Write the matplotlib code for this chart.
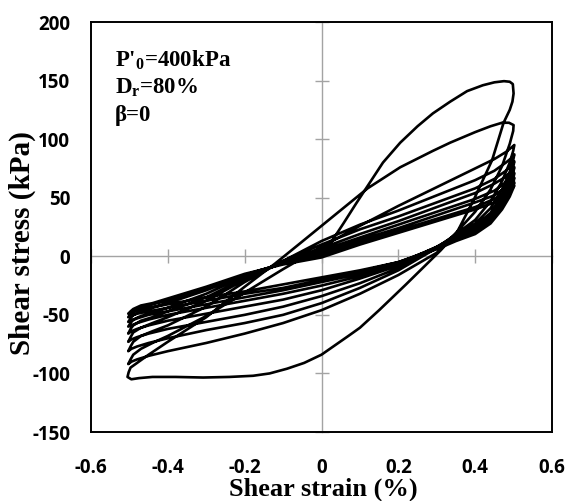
import matplotlib
matplotlib.use("Agg")
import matplotlib.pyplot as plt

# ---------------- data ----------------
# initial loading from origin to first peak
init_strain = [0.0, 0.035, 0.057, 0.09, 0.122, 0.16, 0.205, 0.25, 0.29, 0.335, 0.379, 0.42, 0.45, 0.475, 0.49, 0.498]
init_stress = [0, 17, 28, 45, 61, 80, 97, 111, 122, 132, 141, 146, 148.5, 149.5, 149, 147]

# first unloading
unload1_strain = [0.5, 0.497, 0.49, 0.474, 0.444, 0.396, 0.352, 0.31, 0.22, 0.15, 0.1, 0.07, 0.035, 0.0, -0.045, -0.09, -0.135, -0.178, -0.24, -0.308, -0.38, -0.44, -0.475, -0.495, -0.505, -0.502]
unload1_stress = [139, 132, 125, 114, 82, 48, 20, 5, -24, -46, -61, -68, -76, -84, -91, -96, -100, -102, -103, -103.5, -103, -103, -104, -105, -103, -99]

# first reloading
reload1_strain = [-0.497, -0.48, -0.45, -0.4, -0.3, -0.2, -0.12, -0.056, 0.0, 0.06, 0.12, 0.205, 0.29, 0.335, 0.4, 0.44, 0.47, 0.488, 0.5]
reload1_stress = [-95, -91, -84, -73, -52, -26, -6, 11, 26, 42, 58, 76, 90, 97, 106, 111, 114, 114, 112]

# later cycles: common strain grids
strain_down = [0.499, 0.49, 0.47, 0.44, 0.4, 0.35, 0.3, 0.2, 0.1, 0.0, -0.1, -0.2, -0.3, -0.4, -0.45, -0.48, -0.495, -0.503]
strain_up = [-0.497, -0.49, -0.47, -0.44, -0.4, -0.3, -0.2, -0.1, 0.0, 0.1, 0.2, 0.3, 0.4, 0.45, 0.48, 0.495, 0.502]

unload2 = [107, 96, 77, 57, 38, 20, 3, -16, -32, -46, -57, -66, -74, -81, -85, -88, -90, -92]
reload2 = [-88, -84, -79, -74, -68, -51, -31, -11, 8, 26, 43, 59, 75, 83, 89, 93, 95]
unload3 = [90, 80, 64, 47, 31, 19, 7, -12, -27, -40, -50, -57, -63, -70, -74, -77, -79, -81]
reload3 = [-77, -73, -68, -64, -59, -43, -22, -4, 13, 27, 39, 52, 65, 73, 80, 84, 87]
unload4 = [82, 72, 57, 41, 28, 18, 8, -10, -23, -34, -43, -50, -56, -62, -66, -69, -71, -73]
reload4 = [-69, -65, -61, -57, -52, -38, -20, -4, 10, 23, 34, 46, 58, 66, 73, 78, 81]
unload5 = [76, 66, 52, 37, 26, 17, 8, -8, -19, -29, -37, -43, -49, -55, -59, -62, -64, -66]
reload5 = [-62, -59, -55, -52, -47, -35, -19, -5, 7, 19, 30, 42, 54, 62, 68, 73, 76]
unload6 = [71, 62, 48, 34, 24, 16, 8, -7, -17, -25, -32, -38, -44, -50, -54, -57, -59, -60]
reload6 = [-57, -54, -51, -48, -44, -32, -17, -6, 5, 16, 27, 38, 49, 56, 63, 68, 71]
unload7 = [66, 58, 45, 32, 22, 15, 8, -6, -15, -22, -29, -35, -41, -47, -50, -53, -55, -56]
reload7 = [-53, -50, -47, -44, -40, -29, -16, -6, 3, 14, 24, 35, 46, 52, 59, 64, 67]
unload8 = [62, 55, 43, 30, 21, 14, 7, -5, -13, -20, -27, -32, -38, -44, -47, -49, -51, -52]
reload8 = [-49, -47, -44, -41, -38, -27, -16, -6, 1, 12, 22, 32, 42, 49, 55, 60, 63]
unload9 = [58, 51, 40, 28, 19, 13, 6, -5, -12, -18, -24, -30, -35, -41, -44, -46, -48, -49]
reload9 = [-47, -45, -42, -40, -36, -26, -15, -7, -1, 10, 20, 30, 40, 46, 52, 57, 60]

unloads_later = [unload2, unload3, unload4, unload5, unload6, unload7, unload8, unload9]
reloads_later = [reload2, reload3, reload4, reload5, reload6, reload7, reload8, reload9]

x_ticks = [-0.6, -0.4, -0.2, 0.0, 0.2, 0.4, 0.6]
x_tick_labels = ["-0.6", "-0.4", "-0.2", "0", "0.2", "0.4", "0.6"]
y_ticks = [-150, -100, -50, 0, 50, 100, 150, 200]
y_tick_labels = ["-150", "-100", "-50", "0", "50", "100", "150", "200"]

# ---------------- build the path ----------------
path_x = list(init_strain) + list(unload1_strain) + list(reload1_strain)
path_y = list(init_stress) + list(unload1_stress) + list(reload1_stress)
for u, r in zip(unloads_later, reloads_later):
    path_x += strain_down + strain_up
    path_y += u + r

# ---------------- figure ----------------
plt.rcParams["axes.unicode_minus"] = False
plt.rcParams["font.family"] = ["Open Sans", "DejaVu Sans"]
plt.rcParams["font.weight"] = "bold"
plt.rcParams["mathtext.fontset"] = "custom"
plt.rcParams["mathtext.rm"] = "Liberation Serif:bold"
plt.rcParams["mathtext.it"] = "Liberation Serif:bold"
plt.rcParams["mathtext.bf"] = "Liberation Serif:bold"

fig = plt.figure(figsize=(5.68, 5.01), dpi=100)
pos = [91 / 568, (501 - 432) / 501, (552 - 91) / 568, (432 - 22) / 501]

gray = "#a3a3a3"
ax0 = fig.add_axes(pos)
ax0.set_xlim(-0.6, 0.6)
ax0.set_ylim(-150, 200)
ax0.set_xticks(x_ticks)
ax0.set_yticks(y_ticks)
for s in ["top", "right"]:
    ax0.spines[s].set_visible(False)
ax0.spines["left"].set_position(("data", 0))
ax0.spines["bottom"].set_position(("data", 0))
for s in ["left", "bottom"]:
    ax0.spines[s].set_color(gray)
    ax0.spines[s].set_linewidth(1.0)
ax0.tick_params(direction="inout", length=9.5, width=1.0, color=gray,
                labelleft=False, labelbottom=False)
ax0.set_zorder(0)

ax = fig.add_axes(pos)
ax.set_zorder(1)
ax.patch.set_alpha(0)
ax.plot(path_x, path_y, color="black", lw=1.9, solid_joinstyle="round",
        solid_capstyle="round")
ax.set_xlim(-0.6, 0.6)
ax.set_ylim(-150, 200)
ax.set_xticks(x_ticks)
ax.set_xticklabels(x_tick_labels)
ax.set_yticks(y_ticks)
ax.set_yticklabels(y_tick_labels)
ax.tick_params(length=0, labelsize=13.5)
ax.tick_params(axis="y", pad=15)
ax.tick_params(axis="x", pad=19)
for lab in ax.get_xticklabels() + ax.get_yticklabels():
    lab.set_fontfamily(["Open Sans", "DejaVu Sans"])
    lab.set_fontweight("bold")
for s in ax.spines.values():
    s.set_linewidth(1.4)
    s.set_color("black")

ax.set_xlabel("Shear strain (%)", fontfamily="Liberation Serif",
              fontweight="bold", fontsize=19, va="center")
ax.xaxis.set_label_coords(0.505, -0.139)
ax.set_ylabel("Shear stress (kPa)", fontfamily="Liberation Serif",
              fontweight="bold", fontsize=21, va="center")
ax.yaxis.set_label_coords(-0.148, 0.46)

ann = dict(fontfamily="Liberation Serif", fontweight="bold", fontsize=16.5,
           transform=ax.transAxes, va="baseline", ha="left")
ax.text(0.052, (432 - 67) / 410, "P'$_0$=400kPa", **ann)
ax.text(0.052, (432 - 94) / 410, "D$_r$=80%", **ann)
ax.text(0.052, (432 - 120.5) / 410, "β=0", **ann)

fig.savefig("out.png", dpi=100)
